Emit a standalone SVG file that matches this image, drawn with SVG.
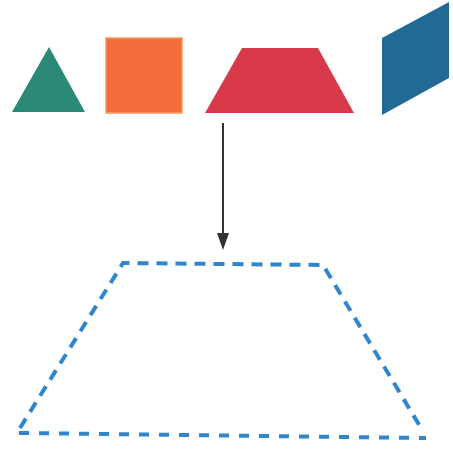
<svg xmlns="http://www.w3.org/2000/svg" width="453" height="450" viewBox="0 0 453 450">
<defs>
<style>
.dash{fill:none;stroke:#2f86cc;stroke-width:4;stroke-dasharray:11 8}
.conn{stroke:#333;stroke-width:2;fill:none}
</style>
<marker id="ah" markerWidth="12" markerHeight="18" refX="6" refY="17" orient="auto-start-reverse" markerUnits="userSpaceOnUse" viewBox="0 0 12 18">
<path d="M0,0 L12,0 L6,18 Z" fill="#333" transform="rotate(0)"/>
</marker>
</defs>
<rect width="453" height="450" fill="#fff"/>
<g id="triangle"><polygon points="49,47 12,112 85,112" fill="#2a8a77"/></g>
<g id="square"><rect x="106" y="38" width="76" height="75" fill="#f46c3c" stroke="#f89a60" stroke-width="1.5"/></g>
<g id="trapezoid"><polygon points="242,48 318,48 354,113 205,113" fill="#d93a4a"/></g>
<g id="parallelogram"><polygon points="382,38 449,2 449,78 382,115" fill="#216a94"/></g>
<g id="target"><path class="dash" d="M20,428 L123,263 L323,265 L421,428"/><path class="dash" d="M19,433 L426,438" style="stroke-dasharray:10 10"/></g>
<g id="connectors"><line class="conn" x1="223" y1="123" x2="223" y2="236"/><path d="M217,233 L229,233 L223,250 Z" fill="#333"/></g>
</svg>
